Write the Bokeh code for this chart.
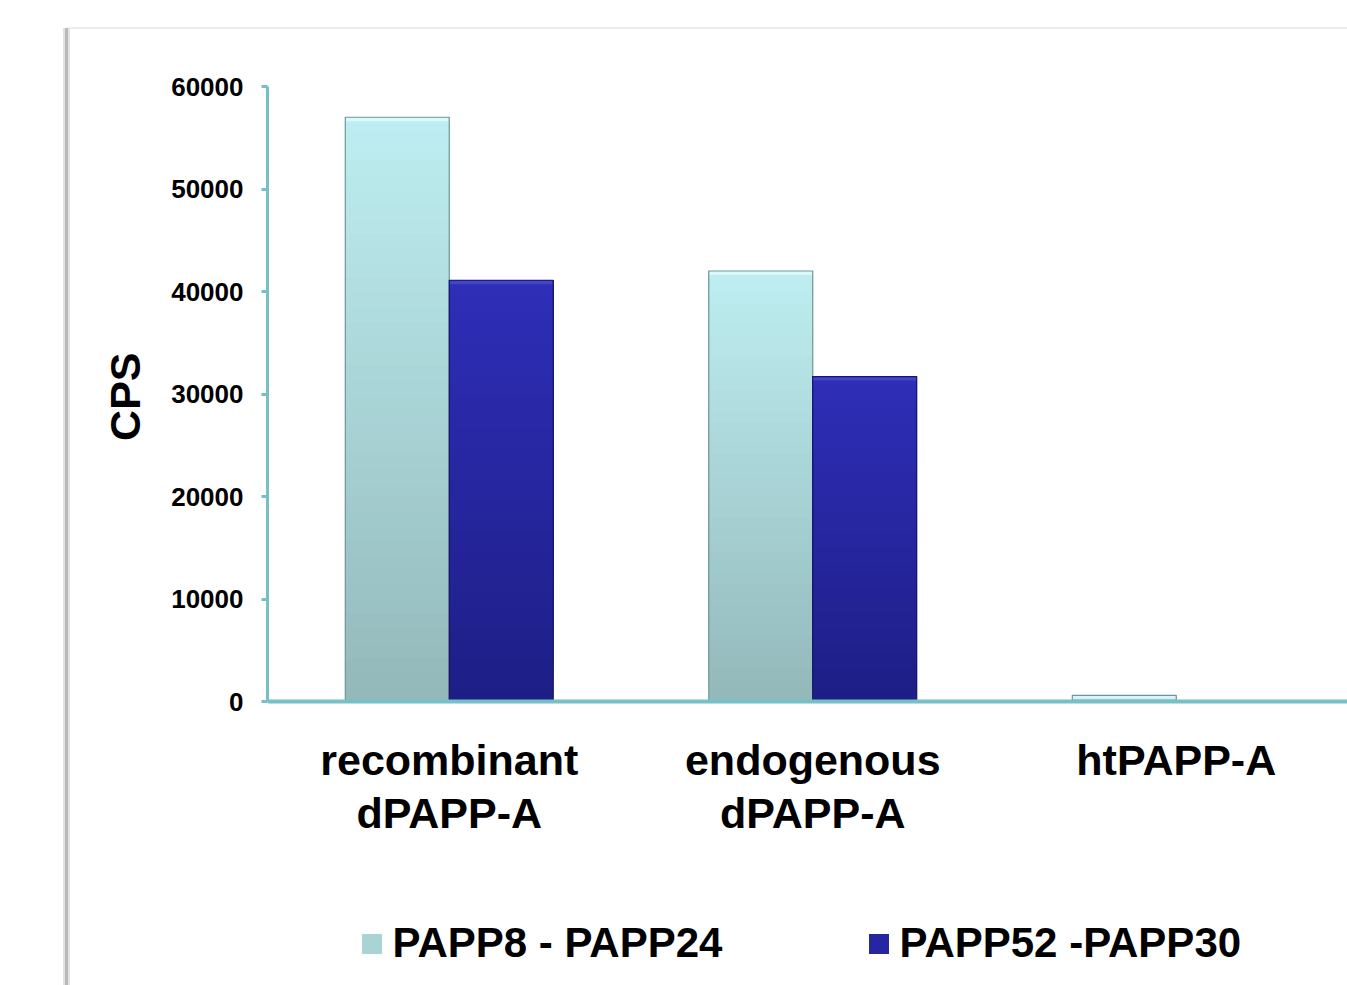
from bokeh.plotting import figure
from bokeh.models import Range1d, FixedTicker, Legend, LegendItem, Span, Title
from bokeh.core.properties import value
from bokeh.embed import file_html
from bokeh.resources import INLINE

# ---- data ----
categories = ["recombinant\ndPAPP-A", "endogenous\ndPAPP-A", "htPAPP-A"]
series_names = ["PAPP8 - PAPP24", "PAPP52 -PAPP30"]
papp8_papp24 = [57000, 42000, 600]
papp52_papp30 = [41100, 31700, 50]
y_ticks = [0, 10000, 20000, 30000, 40000, 50000, 60000]
y_label = "CPS"

# ---- styling / layout ----
FONT = "Liberation Sans"
AXIS_COLOR = "#76C0C6"
light_bottom, light_top = (0x93, 0xB8, 0xBA), (0xBE, 0xEE, 0xF1)
dark_bottom, dark_top = (0x1E, 0x1E, 0x86), (0x2E, 0x2E, 0xB8)
light_edge, dark_edge = "#6F9799", "#16166A"
light_hi, dark_hi = "#E4FAFB", "#4A4AD0"

W, H = 1347, 985
LEFT, TOP = 267, 86          # frame left / top (px)
ZERO_PX = 701                # pixel row of value 0
CAT_PX = 363.5               # pixel width of one category
Y_MAX = 60000
PX = Y_MAX / (ZERO_PX - TOP)  # data units per pixel
y_min = -PX * (H - ZERO_PX)
x_max = (W - LEFT) / CAT_PX
n_cat = len(categories)

p = figure(width=W, height=H, output_backend="svg", toolbar_location=None,
           x_range=Range1d(0, x_max), y_range=Range1d(y_min, Y_MAX),
           min_border_left=LEFT, min_border_right=0, min_border_top=TOP,
           min_border_bottom=0)
p.background_fill_color = "white"
p.border_fill_alpha = 0
p.outline_line_color = None
p.xgrid.visible = False
p.ygrid.visible = False
p.xaxis.visible = False
# faint slide frame lines (left and top) behind the transparent border area
p.styles = {
    "background-color": "white",
    "background-image": ("linear-gradient(#b9b9b9,#b9b9b9), "
                         "linear-gradient(#e3e3e3,#e3e3e3), "
                         "linear-gradient(#ededed,#ededed)"),
    "background-size": "3px 957px, 7px 957px, 1280px 2px",
    "background-position": "65px 28px, 63px 28px, 67px 27px",
    "background-repeat": "no-repeat",
}

# ---- gradient bars ----
N = 40
bar_w = 0.286


def hexc(c):
    return "#%02x%02x%02x" % tuple(int(round(v)) for v in c)


def gradient_bars(values, offset, cbot, ctop, edge, hi):
    L, R, B, T, C = [], [], [], [], []
    for i, v in enumerate(values):
        cx = i + 0.5 + offset
        for k in range(N):
            t = (k + 0.5) / N
            L.append(cx - bar_w / 2)
            R.append(cx + bar_w / 2)
            B.append(v * k / N)
            T.append(v)
            C.append(hexc([cbot[j] + (ctop[j] - cbot[j]) * t for j in range(3)]))
    r = p.quad(left=L, right=R, bottom=B, top=T, fill_color=C, line_color=None)
    lefts = [i + 0.5 + offset - bar_w / 2 for i in range(len(values))]
    rights = [i + 0.5 + offset + bar_w / 2 for i in range(len(values))]
    # top bevel highlight
    p.quad(left=lefts, right=rights,
           bottom=[max(v - 4 * PX, 0) for v in values], top=values,
           fill_color=hi, fill_alpha=0.8, line_color=None)
    p.quad(left=lefts, right=rights, bottom=[0] * len(values), top=values,
           fill_color=None, line_color=edge, line_width=1.2)
    return r


r1 = gradient_bars(papp8_papp24, -bar_w / 2, light_bottom, light_top,
                   light_edge, light_hi)
r2 = gradient_bars(papp52_papp30, bar_w / 2, dark_bottom, dark_top,
                   dark_edge, dark_hi)

# ---- baseline (category axis line) and category labels ----
p.add_layout(Span(location=0, dimension="width", line_color=AXIS_COLOR,
                  line_width=4))
p.text(x=[i + 0.5 for i in range(n_cat)], y=[0] * n_cat, text=categories,
       text_align="center", text_baseline="top", y_offset=34,
       text_font=value(FONT), text_font_style="bold", text_font_size="43px",
       text_color="black", text_line_height=1.12)

# ---- value axis ----
ya = p.yaxis[0]
ya.bounds = (0, Y_MAX)
ya.ticker = FixedTicker(ticks=y_ticks)
ya.axis_line_color = AXIS_COLOR
ya.axis_line_width = 3
ya.major_tick_line_color = AXIS_COLOR
ya.major_tick_line_width = 3
ya.major_tick_out = 6
ya.major_tick_in = 0
ya.minor_tick_line_color = None
ya.major_label_text_font = FONT
ya.major_label_text_font_style = "bold"
ya.major_label_text_font_size = "26px"
ya.major_label_text_color = "black"
ya.major_label_standoff = 18

# axis title, placed along the 0..60000 span of the value axis
p.add_layout(Title(text=y_label, align="right", offset=266,
                   text_font=FONT, text_font_style="bold",
                   text_font_size="43px", text_color="black", standoff=40),
             "left")

# ---- legends (two, side by side near the bottom) ----
for r, name, xloc in [(r1, series_names[0], 91.5), (r2, series_names[1], 598.5)]:
    lg = Legend(items=[LegendItem(label=name, renderers=[r], index=N // 2)],
                location=(xloc, 18), orientation="horizontal",
                glyph_width=25, glyph_height=25, label_standoff=9,
                padding=0, margin=0, border_line_color=None,
                background_fill_alpha=0,
                label_text_font=FONT, label_text_font_style="bold",
                label_text_font_size="42px", label_text_color="black")
    p.add_layout(lg, "center")

open("out.html", "w").write(file_html(p, INLINE))
